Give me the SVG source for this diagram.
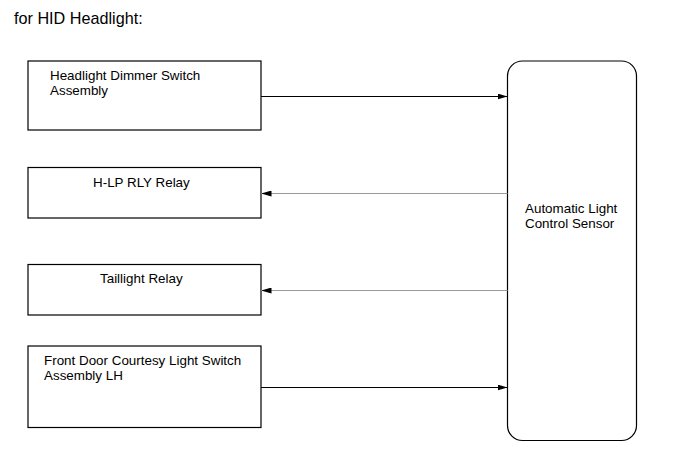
<svg xmlns="http://www.w3.org/2000/svg" width="691" height="465" viewBox="0 0 691 465">
<style>
.box{fill:#fff;stroke:#000;stroke-width:1.2}
.t{font-family:"Liberation Sans",Arial,sans-serif;font-size:13.4px;fill:#000}
.c{stroke:#000;stroke-width:1;fill:none}
.g{stroke:#999;stroke-width:1;fill:none}
</style>
<defs>
<marker id="ah" markerWidth="10" markerHeight="6" refX="10" refY="3" orient="auto" markerUnits="userSpaceOnUse">
<path d="M0,0 L10,3 L0,6 z" fill="#000"/>
</marker>
</defs>
<rect width="691" height="465" fill="#fff"/>
<text class="t" x="14" y="24" style="font-size:16.2px">for HID Headlight:</text>
<g id="dimmer">
<rect class="box" x="28" y="61" width="233" height="69"/>
<text class="t" x="50" y="80">Headlight Dimmer Switch</text>
<text class="t" x="50" y="95">Assembly</text>
</g>
<g id="hlp">
<rect class="box" x="28" y="167.5" width="233" height="50.5"/>
<text class="t" x="93" y="187">H-LP RLY Relay</text>
</g>
<g id="tail">
<rect class="box" x="28" y="264.5" width="233" height="50.5"/>
<text class="t" x="100" y="283">Taillight Relay</text>
</g>
<g id="door">
<rect class="box" x="28" y="346" width="233" height="81.5"/>
<text class="t" x="44" y="365">Front Door Courtesy Light Switch</text>
<text class="t" x="44" y="380">Assembly LH</text>
</g>
<g id="sensor">
<rect class="box" x="507.5" y="61" width="129" height="379.5" rx="15" ry="15"/>
<text class="t" x="525" y="213">Automatic Light</text>
<text class="t" x="525" y="228">Control Sensor</text>
</g>
<g id="connectors">
<line class="c" x1="261" y1="96.5" x2="507.5" y2="96.5" marker-end="url(#ah)"/>
<line class="g" x1="507.5" y1="193.5" x2="261.5" y2="193.5" marker-end="url(#ah)"/>
<line class="g" x1="507.5" y1="290.5" x2="261.5" y2="290.5" marker-end="url(#ah)"/>
<line class="c" x1="261" y1="387.5" x2="507.5" y2="387.5" marker-end="url(#ah)"/>
</g>
</svg>
